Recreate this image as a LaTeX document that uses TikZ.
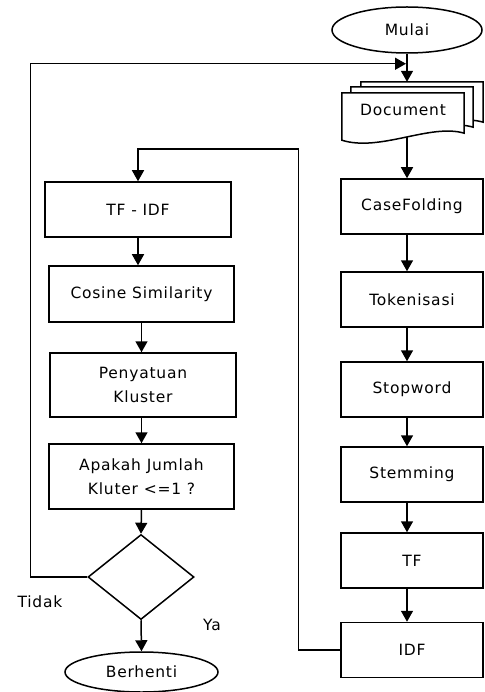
\documentclass[tikz,border=0pt]{standalone}
\usepackage{fontspec}
\setmainfont{DejaVu Sans}[LetterSpace=5]
\usetikzlibrary{arrows.meta, positioning, shapes.geometric, calc}

\begin{document}
\begin{tikzpicture}[
    x=1pt, y=-1pt,
    box/.style={rectangle, draw, line width=1.5pt, minimum width=#1, minimum height=55pt, inner sep=0pt, align=center, font=\fontsize{15.5}{24}\selectfont},
    box/.default=142pt,
    term/.style={ellipse, draw, line width=1.5pt, inner sep=0pt, font=\fontsize{15.5}{24}\selectfont},
    page/.style={rectangle, minimum width=122pt, minimum height=40pt, inner sep=0pt, font=\fontsize{15.5}{24}\selectfont},
    lbl/.style={font=\fontsize{15.5}{24}\selectfont},
    arr/.style={-{Triangle[length=11pt, width=12pt]}, line width=1.5pt}
]
\useasboundingbox (0,0) rectangle (484,692);

% Right column
\node[term, minimum width=150pt, minimum height=46pt] (mulai) at (407,30) {Mulai};
\node[page] (doc3) at (422,102) {};
\node[page] (doc2) at (412,107) {};
\node[page] (doc) at (403,113) {};
\foreach \p in {doc3, doc2, doc}
    \draw[line width=1.5pt, fill=white] (\p.north west) -- (\p.north east) -- (\p.south east)
        .. controls +(-34,-10) and +(38,12) .. ($(\p.south west)+(0,7)$) -- cycle;
\node[lbl] (doctext) at ($(doc.center)+(0,-3)$) {Document};
\node[box] (casef) at (412,206.5) {CaseFolding};
\node[box] (token) at (412,299.5) {Tokenisasi};
\node[box] (stopw) at (412,389.5) {Stopword};
\node[box] (stemm) at (412,474.5) {Stemming};
\node[box] (tf) at (412,560.5) {TF};
\node[box] (idf) at (412,650) {IDF};

% Left column
\node[box=186pt] (tfidf) at (138,209.5) {TF - IDF};
\node[box=185pt, minimum height=56pt] (cosine) at (141.5,294) {Cosine Similarity};
\node[box=186pt, minimum height=64pt] (satu) at (143,385) {Penyatuan\\Kluster};
\node[box=185pt, minimum height=65pt] (cek) at (141.5,476.5) {Apakah Jumlah\\Kluter <=1 ?};
\node[diamond, draw, line width=1.5pt, aspect=1.25, minimum width=106pt, minimum height=85pt, inner sep=0pt] (dec) at (141,577) {};
\node[term, minimum width=153pt, minimum height=40pt] (berhenti) at (141.5,672) {Berhenti};
\node[lbl] (tidak) at (40,602) {Tidak};
\node[lbl] (ya) at (212,625) {Ya};

% Arrows
\coordinate (join) at ($(mulai.south)+(0,10)$);
\draw[arr] (mulai.south) -- (mulai.south |- doc3.north);
\draw[arr] ($(doc.south -| mulai)+(0,4)$) -- (casef.north -| mulai);
\draw[arr] (casef.south -| mulai) -- (token.north -| mulai);
\draw[arr] (token.south -| mulai) -- (stopw.north -| mulai);
\draw[arr] (stopw.south -| mulai) -- (stemm.north -| mulai);
\draw[arr] (stemm.south -| mulai) -- (tf.north -| mulai);
\draw[arr] (tf.south -| mulai) -- (idf.north -| mulai);
\draw[arr] (idf.west) -- ++(-42,0) |- ($(tfidf.north)+(0,-32)$) -- (tfidf.north);
\draw[arr] (tfidf.south) -- (tfidf.south |- cosine.north);
\draw[arr] (cosine.south) -- (cosine.south |- satu.north);
\draw[arr] (cek.south |- satu.south) -- (cek.north);
\draw[arr] (cek.south) -- (dec.north);
\draw[arr] (dec.south) -- (berhenti.north);
\draw[arr, shorten >=1pt] (dec.west) -- ++(-57,0) |- (join);

\end{tikzpicture}
\end{document}
